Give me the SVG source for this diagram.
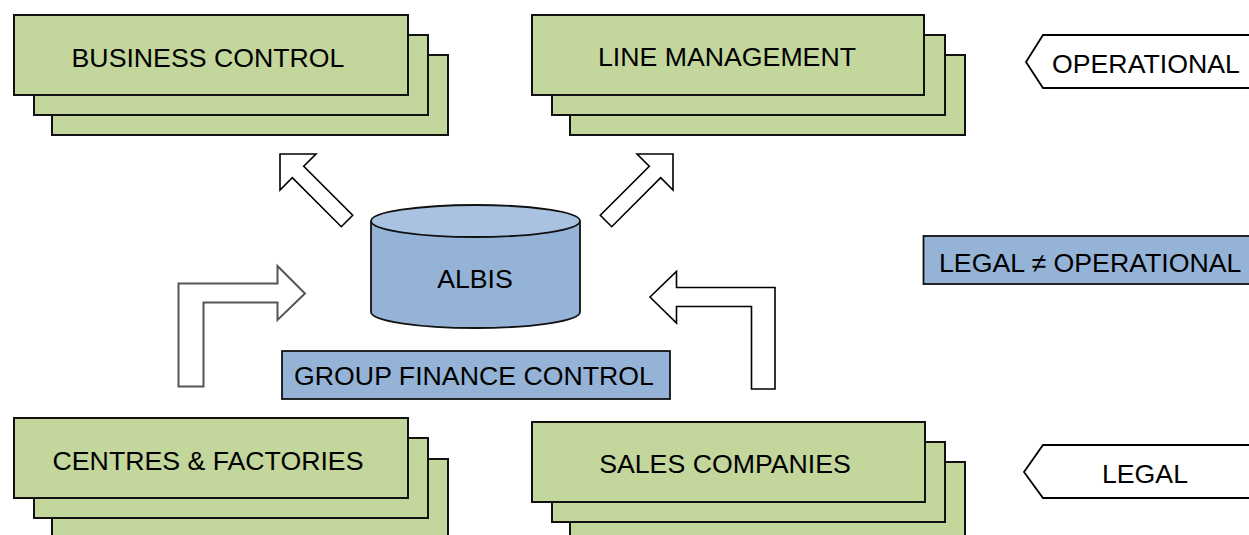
<svg xmlns="http://www.w3.org/2000/svg" width="1249" height="535" viewBox="0 0 1249 535">
  <style>
    .lbl { font-family: "Liberation Sans", Arial, sans-serif; font-size: 26.7px; fill: #000; }
    .mid { text-anchor: middle; }
    .green { fill: #C3D69B; stroke: #111; stroke-width: 2; }
    .blue { fill: #95B3D7; stroke: #111; stroke-width: 1.8; }
    .arrow { fill: #fff; stroke: #000; stroke-width: 1.6; stroke-linejoin: miter; }
    .arrow-soft { fill: #fff; stroke: #555; stroke-width: 2; filter: url(#soft); }
    .tag { fill: #fff; stroke: #000; stroke-width: 1.8; }
  </style>
  <defs>
    <filter id="soft" x="-5%" y="-5%" width="110%" height="110%">
      <feGaussianBlur stdDeviation="0.6"/>
    </filter>
  </defs>

  <rect width="1249" height="535" fill="#fff"/>

  <!-- Stacked entity boxes -->
  <g id="business-control">
    <rect class="green" x="52" y="55" width="396" height="80"/>
    <rect class="green" x="34" y="35" width="394" height="80"/>
    <rect class="green" x="14" y="15" width="394" height="80"/>
    <text class="lbl mid" x="208" y="67">BUSINESS CONTROL</text>
  </g>

  <g id="line-management">
    <rect class="green" x="570" y="55" width="395" height="80"/>
    <rect class="green" x="552" y="35" width="393" height="80"/>
    <rect class="green" x="532" y="15" width="392" height="80"/>
    <text class="lbl mid" x="727" y="66">LINE MANAGEMENT</text>
  </g>

  <g id="centres-factories">
    <rect class="green" x="52" y="459" width="396" height="90"/>
    <rect class="green" x="34" y="438" width="394" height="80"/>
    <rect class="green" x="14" y="418" width="394" height="80"/>
    <text class="lbl mid" x="208" y="470">CENTRES &amp; FACTORIES</text>
  </g>

  <g id="sales-companies">
    <rect class="green" x="570" y="462" width="395" height="90"/>
    <rect class="green" x="552" y="442" width="393" height="80"/>
    <rect class="green" x="532" y="422" width="393" height="80"/>
    <text class="lbl mid" x="725" y="473">SALES COMPANIES</text>
  </g>

  <!-- Central database -->
  <g id="albis">
    <path d="M371,221 L371,312 A104.5,16 0 0 0 580,312 L580,221" fill="#95B3D7" stroke="#111" stroke-width="1.8"/>
    <ellipse cx="475.5" cy="221" rx="104.5" ry="16" fill="#A9C2E2" stroke="#111" stroke-width="1.8"/>
    <text class="lbl mid" x="475" y="288">ALBIS</text>
  </g>

  <g id="group-finance-control">
    <rect class="blue" x="282" y="351" width="388" height="48"/>
    <text class="lbl mid" x="474" y="385">GROUP FINANCE CONTROL</text>
  </g>

  <g id="legal-neq-operational">
    <rect class="blue" x="923.5" y="236" width="330" height="48"/>
    <text class="lbl" x="939" y="272">LEGAL ≠ OPERATIONAL</text>
  </g>

  <!-- Side tags -->
  <g id="operational-tag">
    <polygon class="tag" points="1043,35 1255,35 1255,88 1043,88 1026,62"/>
    <text class="lbl" x="1052" y="73">OPERATIONAL</text>
  </g>

  <g id="legal-tag">
    <polygon class="tag" points="1043,445 1255,445 1255,498 1043,498 1024,472"/>
    <text class="lbl mid" x="1145" y="483">LEGAL</text>
  </g>

  <!-- Block arrows -->
  <g id="connectors">
    <polygon class="arrow" points="280,154 316,154 303.7,166.3 352.7,215.3 341.3,226.7 292.3,177.7 280,190"/>
    <polygon class="arrow" points="673,154 637,154 649.3,166.3 600.3,215.3 611.7,226.7 660.7,177.7 673,190"/>
    <polygon class="arrow-soft" points="178.5,386.5 178.5,283.5 277.5,283.5 277.5,266 305,293.5 277.5,320 277.5,302.5 203.5,302.5 203.5,386.5"/>
    <polygon class="arrow" points="650,297 676.5,271.5 676.5,287.5 775,287.5 775,389 751.5,389 751.5,306.5 676.5,306.5 676.5,323"/>
  </g>
</svg>
